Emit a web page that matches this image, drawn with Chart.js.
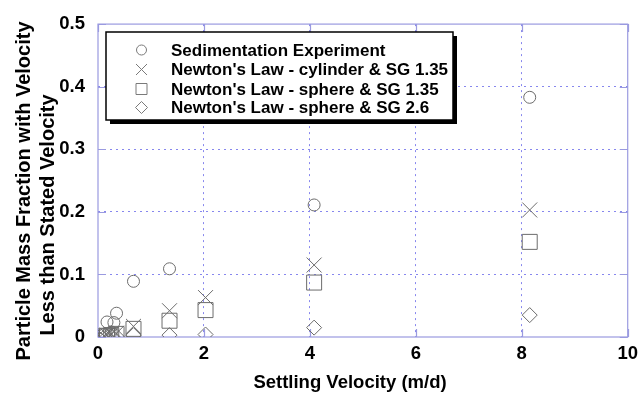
<!DOCTYPE html>
<html><head><meta charset="utf-8">
<script src="https://cdn.jsdelivr.net/npm/chart.js@4/dist/chart.umd.min.js"></script>
<style>html,body{margin:0;padding:0;background:#fff;}#wrap{width:644px;height:393px;position:relative;}</style>
</head><body><div id="wrap"><canvas id="c"></canvas></div>
<script>
// ---- data ----
const seriesNames = [
  "Sedimentation Experiment",
  "Newton's Law - cylinder & SG 1.35",
  "Newton's Law - sphere & SG 1.35",
  "Newton's Law - sphere & SG 2.6"
];
const sedX = [0.12, 0.17, 0.25, 0.30, 0.35, 0.67, 1.35, 4.08, 8.15];
const sedY = [0.004, 0.024, 0.008, 0.023, 0.038, 0.089, 0.109, 0.211, 0.383];
const newtonX = [0.12, 0.17, 0.25, 0.35, 0.67, 1.35, 2.03, 4.08, 8.15];
const cylY   = [0.001, 0.003, 0.004, 0.006, 0.017, 0.042, 0.063, 0.115, 0.203];
const sph135Y = [0.001, 0.002, 0.003, 0.005, 0.013, 0.026, 0.043, 0.087, 0.152];
const sph26Y  = [0.000, 0.000, 0.001, 0.001, 0.003, 0.003, 0.004, 0.015, 0.035];
const xTicks = [0, 2, 4, 6, 8, 10];
const yTicks = [0, 0.1, 0.2, 0.3, 0.4, 0.5];
const xTitle = "Settling Velocity (m/d)";
const yTitle = ["Particle Mass Fraction with Velocity", "Less than Stated Velocity"];

const FONT = "'Liberation Sans', Arial, sans-serif";
const MARK = '#6c6c6c';
const GRID = 'rgb(135,135,238)';
const FRAME = '#9a9ae0';

function pts(xs, ys){ return xs.map((x,i)=>({x:x, y:ys[i]})); }
function ds(label, data, style, r){
  return {label, data, pointStyle: style, pointRadius: r, pointHoverRadius: r,
    borderColor: MARK, backgroundColor: 'rgba(0,0,0,0)', pointBorderWidth: 1, borderWidth: 1, showLine: false};
}

const framePlugin = {
  id: 'frame',
  beforeDatasetsDraw(chart){
    const {ctx, chartArea: a, scales} = chart;
    ctx.save();
    ctx.strokeStyle = FRAME; ctx.lineWidth = 1.2; ctx.setLineDash([]);
    ctx.strokeRect(a.left, a.top, a.right - a.left, a.bottom - a.top);
    ctx.beginPath();
    yTicks.forEach(v => {
      const y = Math.round(scales.y.getPixelForValue(v)) + 0.5;
      ctx.moveTo(a.left, y); ctx.lineTo(a.left + 8, y);
      ctx.moveTo(a.right, y); ctx.lineTo(a.right - 8, y);
    });
    xTicks.forEach(v => {
      const x = Math.round(scales.x.getPixelForValue(v)) + 0.5;
      ctx.moveTo(x, a.bottom); ctx.lineTo(x, a.bottom - 8);
      ctx.moveTo(x, a.top); ctx.lineTo(x, a.top + 8);
    });
    ctx.stroke();
    ctx.restore();
  }
};

function drawMarker(ctx, style, x, y, s){
  ctx.beginPath();
  if (style === 'circle') { ctx.arc(x, y, s, 0, Math.PI*2); }
  else if (style === 'crossRot') { ctx.moveTo(x-s,y-s); ctx.lineTo(x+s,y+s); ctx.moveTo(x+s,y-s); ctx.lineTo(x-s,y+s); }
  else if (style === 'rect') { ctx.rect(x-s, y-s, 2*s, 2*s); }
  else if (style === 'rectRot') { ctx.moveTo(x, y-s); ctx.lineTo(x+s, y); ctx.lineTo(x, y+s); ctx.lineTo(x-s, y); ctx.closePath(); }
  ctx.stroke();
}

const legendPlugin = {
  id: 'boxLegend',
  afterDraw(chart){
    const ctx = chart.ctx;
    const bx = 106, by = 32, bw = 347, bh = 88;
    ctx.save();
    ctx.fillStyle = '#000';
    ctx.fillRect(bx + 4, by + 4, bw, bh);
    ctx.fillStyle = '#fff';
    ctx.fillRect(bx, by, bw, bh);
    ctx.strokeStyle = '#000'; ctx.lineWidth = 1.5;
    ctx.strokeRect(bx, by, bw, bh);
    const rows = [50, 69.5, 89, 107.5];
    const styles = ['circle', 'crossRot', 'rect', 'rectRot'];
    const sizes = [5, 5.5, 5.5, 6];
    ctx.strokeStyle = '#7a7a7a'; ctx.lineWidth = 1;
    chart.data.datasets.forEach((d, i) => {
      drawMarker(ctx, styles[i], 141.5, rows[i], sizes[i]);
    });
    ctx.fillStyle = '#000';
    ctx.font = 'bold 17px ' + FONT;
    ctx.textAlign = 'left'; ctx.textBaseline = 'middle';
    chart.data.datasets.forEach((d, i) => {
      ctx.fillText(d.label, 171, rows[i] + 1);
    });
    // axis titles
    ctx.font = 'bold 18.5px ' + FONT;
    ctx.textAlign = 'center';
    ctx.fillText(xTitle, 350, 383);
    ctx.font = 'bold 20px ' + FONT;
    const pos = [[24, 191], [48, 215]];
    yTitle.forEach((t, i) => {
      ctx.save();
      ctx.translate(pos[i][0], pos[i][1]);
      ctx.rotate(-Math.PI/2);
      ctx.fillText(t, 0, 0);
      ctx.restore();
    });
    ctx.restore();
  }
};

new Chart(document.getElementById('c'), {
  type: 'scatter',
  data: {
    datasets: [
      ds(seriesNames[0], pts(sedX, sedY), 'circle', 6),
      ds(seriesNames[1], pts(newtonX, cylY), 'crossRot', 10.6),
      ds(seriesNames[2], pts(newtonX, sph135Y), 'rect', 10.6),
      ds(seriesNames[3], pts(newtonX, sph26Y), 'rectRot', 7.5)
    ]
  },
  options: {
    responsive: true, maintainAspectRatio: false, animation: false,
    layout: {padding: {left: 0, right: 12, top: 21, bottom: 0}},
    plugins: {legend: {display: false}, tooltip: {enabled: false}},
    scales: {
      x: {
        type: 'linear', min: 0, max: 10,
        afterFit(s){ s.height = 56; },
        afterBuildTicks(s){ s.ticks = xTicks.map(v => ({value: v})); },
        ticks: {color: '#000', font: {family: FONT, size: 18.5, weight: 'bold'}, padding: 6, maxRotation: 0},
        grid: {drawTicks: false, lineWidth: 1,
          color: c => (c.tick && (c.tick.value === 0 || c.tick.value === 10)) ? 'rgba(0,0,0,0)' : GRID},
        border: {display: false, dash: [2, 4]}
      },
      y: {
        type: 'linear', min: 0, max: 0.5,
        afterFit(s){ s.width = 98; },
        afterBuildTicks(s){ s.ticks = yTicks.map(v => ({value: v})); },
        ticks: {color: '#000', font: {family: FONT, size: 18.5, weight: 'bold'}, padding: 13,
          callback: v => String(Math.round(v*10)/10)},
        grid: {drawTicks: false, lineWidth: 1,
          color: c => (c.tick && (c.tick.value === 0 || c.tick.value === 0.5)) ? 'rgba(0,0,0,0)' : GRID},
        border: {display: false, dash: [2, 4]}
      }
    }
  },
  plugins: [framePlugin, legendPlugin]
});
</script>
</body></html>
